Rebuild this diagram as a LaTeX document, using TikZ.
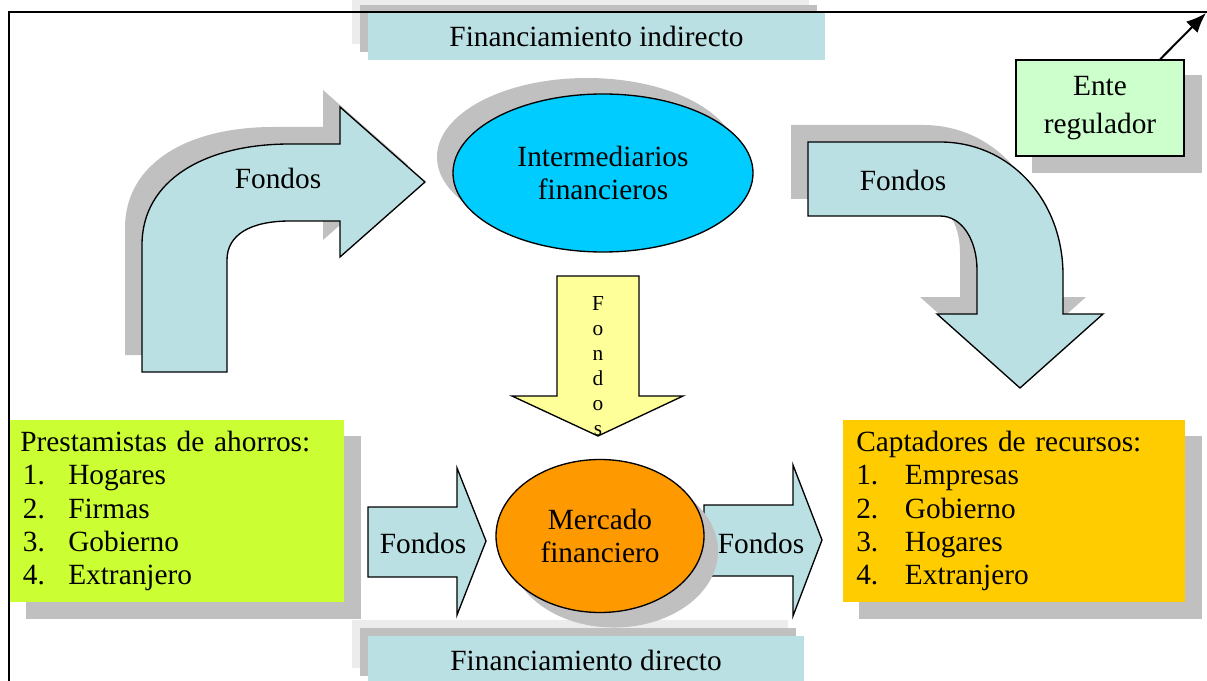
\documentclass[tikz,border=0pt]{standalone}
\usepackage{fontspec}
\setmainfont{Liberation Serif}
\usepackage{xcolor}
\usepackage{tikz}
\usetikzlibrary{arrows.meta,shapes.geometric}
\pgfdeclarelayer{bg}
\pgfsetlayers{bg,main}
\definecolor{labelblue}{RGB}{187,224,227}
\definecolor{shadowgray}{RGB}{192,192,192}
\definecolor{halogray}{RGB}{236,236,236}
\definecolor{skycyan}{RGB}{0,204,255}
\definecolor{marketorange}{RGB}{255,153,0}
\definecolor{limegreen}{RGB}{204,255,51}
\definecolor{goldyellow}{RGB}{255,204,0}
\definecolor{paleyellow}{RGB}{255,255,153}
\definecolor{mintgreen}{RGB}{204,255,204}
\tikzstyle{outline} = [draw=black,line width=1pt]
\tikzstyle{labelbox} = [fill=labelblue,minimum width=342.75pt,minimum height=35.25pt,inner sep=0pt]
\tikzstyle{listbox} = [anchor=north west,minimum height=136.5pt,align=left,inner ysep=0pt]
\tikzstyle{regarrow} = [line width=1.5pt,-{Latex[length=15pt,width=12pt]}]
\newcommand{\lendertext}{Prestamistas de ahorros:\\
  \hspace*{2pt}\makebox[34pt][l]{1.}Hogares\\
  \hspace*{2pt}\makebox[34pt][l]{2.}Firmas\\
  \hspace*{2pt}\makebox[34pt][l]{3.}Gobierno\\
  \hspace*{2pt}\makebox[34pt][l]{4.}Extranjero}
\newcommand{\takertext}{Captadores de recursos:\\
  \makebox[36.5pt][l]{1.}Empresas\\
  \makebox[36.5pt][l]{2.}Gobierno\\
  \makebox[36.5pt][l]{3.}Hogares\\
  \makebox[36.5pt][l]{4.}Extranjero}
\def\leftbend{(142,372) -- (142,245) .. controls (142,180) and (205,144) .. (290,144) -- (340,144) -- (340,107) -- (425,182) -- (340,257) -- (340,221) -- (290,221) .. controls (250,221) and (227,235) .. (227,260) -- (227,372) -- cycle}
\def\rightbend{(808,142) -- (940,142) .. controls (1010,142) and (1063,200) .. (1063,275) -- (1063,314) -- (1103,314) -- (1020,388) -- (937,314) -- (977,314) -- (977,270) .. controls (977,240) and (962,216) .. (940,216) -- (808,216) -- cycle}

\begin{document}
\begin{tikzpicture}[x=0.75pt,y=-0.75pt,font=\fontsize{22}{25}\selectfont]
    \useasboundingbox (0,0) rectangle (1207,681);
    % frame
    \coordinate (corner) at (1206,13);
    % captions
    \node[labelbox] (indirect) at (596.5,36.5) {Financiamiento indirecto};
    \node[labelbox,minimum width=327pt,minimum height=36pt] (direct) at (586,660) {Financiamiento directo};
    \begin{pgfonlayer}{bg}
        \fill[halogray] ([shift={(-16,-16)}]indirect.south west) rectangle ([shift={(-16,-16)}]indirect.north east);
        \fill[shadowgray] ([shift={(-8,-8)}]indirect.south west) rectangle ([shift={(-8,-8)}]indirect.north east);
        \fill[halogray] ([shift={(-16,-16)}]direct.south west) rectangle ([shift={(-16,-16)}]direct.north east);
        \fill[shadowgray] ([shift={(-8,-8)}]direct.south west) rectangle ([shift={(-8,-8)}]direct.north east);
    \end{pgfonlayer}
    \draw[line width=1pt] (9,681) -- (9,12) -- (1207,12);
    % bent arrows
    \fill[shadowgray,shift={(-17,-17)}] \leftbend;
    \draw[outline,fill=labelblue] \leftbend;
    \fill[shadowgray,shift={(-17,-17)}] \rightbend;
    \draw[outline,fill=labelblue] \rightbend;
    \node (fundsleft) at (278,178) {Fondos};
    \node (fundsright) at (903,180) {Fondos};
    % straight arrows
    \draw[outline,fill=labelblue] (368,507) -- (457,507) -- (457,468) -- (486,541) -- (457,615) -- (457,577) -- (368,577) -- cycle;
    \draw[outline,fill=labelblue] (704,505) -- (793,505) -- (793,465) -- (822,540) -- (793,616) -- (793,576) -- (704,576) -- cycle;
    \node (fundsin) at (423,543) {Fondos};
    \node (fundsout) at (761,543) {Fondos};
    \draw[outline,fill=paleyellow] (557,276) -- (639,276) -- (639,396) -- (683,396) -- (598,436) -- (512,396) -- (557,396) -- cycle;
    \node[align=center,font=\fontsize{16}{18.75}\selectfont] (fundsdown) at (598,366) {F\\o\\n\\d\\o\\s};
    % intermediaries and market
    \fill[shadowgray] (587,157) ellipse (112.5pt and 59.25pt);
    \node[ellipse,outline,fill=skycyan,minimum width=225pt,minimum height=118.5pt,inner sep=0pt,align=center] (intermed) at (603,173) {Intermediarios\\financieros};
    \fill[shadowgray] (614,551) ellipse (78pt and 57.4pt);
    \node[ellipse,outline,fill=marketorange,minimum width=156pt,minimum height=114.75pt,inner sep=0pt,align=center] (market) at (600,536) {Mercado\\financiero};
    % lenders and takers
    \node[listbox,fill=limegreen,text width=235.5pt,inner xsep=7.5pt] (lenders) at (10,420) {\lendertext};
    \node[listbox,fill=goldyellow,text width=237pt,inner xsep=9.75pt] (takers) at (843,420) {\takertext};
    \begin{pgfonlayer}{bg}
        \fill[shadowgray] ([shift={(16,16)}]lenders.south west) rectangle ([shift={(16,16)}]lenders.north east);
        \fill[shadowgray] ([shift={(16,16)}]takers.south west) rectangle ([shift={(16,16)}]takers.north east);
    \end{pgfonlayer}
    % regulator
    \node[outline,fill=mintgreen,minimum width=126pt,minimum height=72pt,align=center,font=\fontsize{22}{29}\selectfont] (ente) at (1100,108) {Ente\\regulador};
    \begin{pgfonlayer}{bg}
        \fill[shadowgray] ([shift={(17,16)}]ente.south west) rectangle ([shift={(17,16)}]ente.north east);
    \end{pgfonlayer}
    \draw[regarrow] (ente.39) -- (corner);
\end{tikzpicture}
\end{document}
